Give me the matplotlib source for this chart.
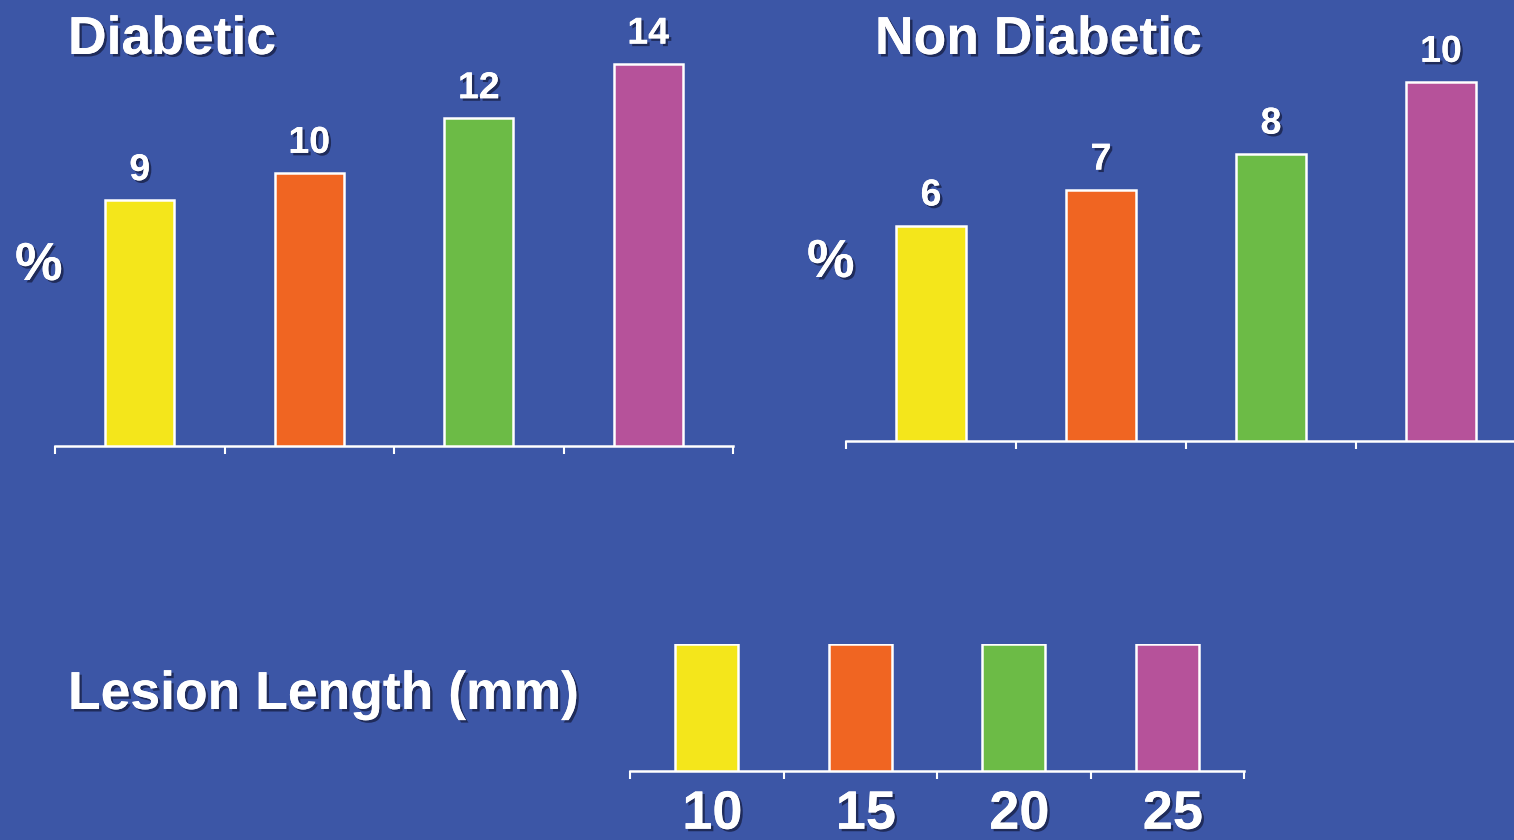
import matplotlib
matplotlib.use("Agg")
import matplotlib.pyplot as plt
import matplotlib.patheffects as pe
from matplotlib import font_manager

# Restenosis rates by lesion length
lengths = ["10", "15", "20", "25"]
diabetic = [9, 10, 12, 14]
non_diabetic = [6, 7, 8, 10]
legend_heights = [1, 1, 1, 1]
bar_colors = ["#f4e61b", "#f06522", "#6cbb46", "#b6529a"]

BG = "#3c56a6"
FONT = ["Liberation Sans", "DejaVu Sans"]
installed = {f.name for f in font_manager.fontManager.ttflist}
NARROW = ["Liberation Sans Narrow"] + FONT if "Liberation Sans Narrow" in installed else FONT
narrow_ok = NARROW[0] == "Liberation Sans Narrow"

shadow = [pe.withSimplePatchShadow(offset=(1.8, -1.8), shadow_rgbFace="#141a3a", alpha=0.7),
          pe.Normal()]

fig = plt.figure(figsize=(15.14, 8.4), dpi=100, facecolor=BG)


def bar_panel(rect, values, ymax, show_values=True, tick_labels=None):
    ax = fig.add_axes(rect)
    ax.set_facecolor(BG)
    ax.patch.set_alpha(0)
    x = list(range(len(values)))
    ax.bar(x, values, width=0.41, color=bar_colors, edgecolor="white", linewidth=1.8,
           zorder=3)
    ax.set_xlim(-0.5, len(values) - 0.5)
    ax.set_ylim(0, ymax)
    for s in ("top", "right", "left"):
        ax.spines[s].set_visible(False)
    ax.spines["bottom"].set_color("white")
    ax.spines["bottom"].set_linewidth(1.8)
    ax.set_yticks([])
    ax.set_xticks([i - 0.5 for i in range(len(values) + 1)])
    ax.set_xticklabels([])
    ax.tick_params(axis="x", direction="out", length=6, width=1.5, color="white")
    if show_values:
        for xi, v in zip(x, values):
            ax.annotate(str(v), (xi, v), xytext=(0, 14.5), textcoords="offset points",
                        ha="center", va="baseline",
                        fontsize=29 if narrow_ok else 27, fontweight="bold",
                        color="white", family=NARROW, path_effects=shadow,
                        annotation_clip=False)
    if tick_labels is not None:
        for xi, lab in zip(x, tick_labels):
            ax.annotate(lab, (xi, 0), xytext=(4, -49.5), textcoords="offset points",
                        ha="center", va="bottom",
                        fontsize=39, fontweight="bold",
                        color="white", family=NARROW, path_effects=shadow,
                        annotation_clip=False)
    return ax


# Diabetic panel
bar_panel([55 / 1514, 394 / 840, 678 / 1514, 16 * 27.3 / 840], diabetic, 16)
# Non-diabetic panel
bar_panel([846 / 1514, 399 / 840, 680 / 1514, 12 * 35.9 / 840], non_diabetic, 12)
# Colour key for lesion length
bar_panel([630 / 1514, 69 / 840, 614 / 1514, 127 / 840], legend_heights, 1,
          show_values=False, tick_labels=lengths)

title_kw = dict(fontsize=38.5, fontweight="bold", color="white", family=FONT,
                path_effects=shadow)
fig.text(68 / 1514, 1 - 40 / 840, "Diabetic", ha="left", va="center", **title_kw)
fig.text(875 / 1514, 1 - 40 / 840, "Non Diabetic", ha="left", va="center", **title_kw)
fig.text(15 / 1514, 1 - 266 / 840, "%", ha="left", va="center", **title_kw)
fig.text(807 / 1514, 1 - 263 / 840, "%", ha="left", va="center", **title_kw)
fig.text(68 / 1514, 1 - 695 / 840, "Lesion Length (mm)", ha="left", va="center", **title_kw)

fig.savefig("out.png", dpi=100, facecolor=BG)
